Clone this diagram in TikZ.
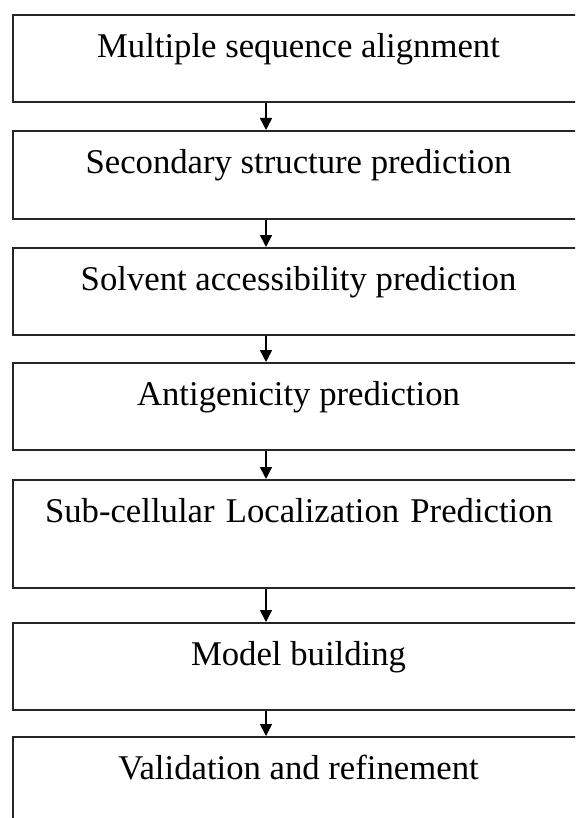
\documentclass[tikz,border=0pt]{standalone}
\usepackage{fontspec}
\setmainfont{Liberation Serif}
\usetikzlibrary{arrows.meta}
\begin{document}
\begin{tikzpicture}[x=1pt,y=1pt,
  box/.style={draw=black!85,line width=1.8pt,minimum width=573pt,inner sep=0pt,anchor=north west},
  lbl/.style={anchor=base,inner sep=0pt,font=\fontsize{34.7pt}{40pt}\selectfont},
  arr/.style={line width=1.6pt,-{Triangle[width=12pt,length=12pt]}}]
\useasboundingbox (0,0) rectangle (575,-818);
\clip (0,0) rectangle (575,-818);
\fill[white] (0,0) rectangle (575,-818);
\node[box,minimum height=87.5pt] (b1) at (11.7,-14) {};
\node[box,minimum height=88pt] (b2) at (11.7,-130) {};
\node[box,minimum height=87pt] (b3) at (11.7,-247) {};
\node[box,minimum height=87pt] (b4) at (11.7,-362) {};
\node[box,minimum height=108pt] (b5) at (11.7,-479) {};
\node[box,minimum height=87pt] (b6) at (11.7,-622) {};
\node[box,minimum height=100pt] (b7) at (11.7,-736) {};
\node[lbl] (t1) at (298.5,-57.5) {Multiple sequence alignment};
\node[lbl] (t2) at (298.5,-173.5) {Secondary structure prediction};
\node[lbl] (t3) at (298.5,-290.5) {Solvent accessibility prediction};
\node[lbl] (t4) at (298.5,-405.5) {Antigenicity prediction};
\node[lbl] (t5) at (299,-522.5) {Sub-cellular\hspace{2.5pt} Localization\hspace{2.5pt} Prediction};
\node[lbl] (t6) at (298.5,-665.5) {Model building};
\node[lbl] (t7) at (298.5,-779.5) {Validation and refinement};
\foreach \a/\b in {b1/b2,b2/b3,b3/b4,b4/b5,b5/b6,b6/b7}
  \draw[arr] ([xshift=254.3pt]\a.south west) -- ([xshift=254.3pt]\b.north west);
\end{tikzpicture}
\end{document}
